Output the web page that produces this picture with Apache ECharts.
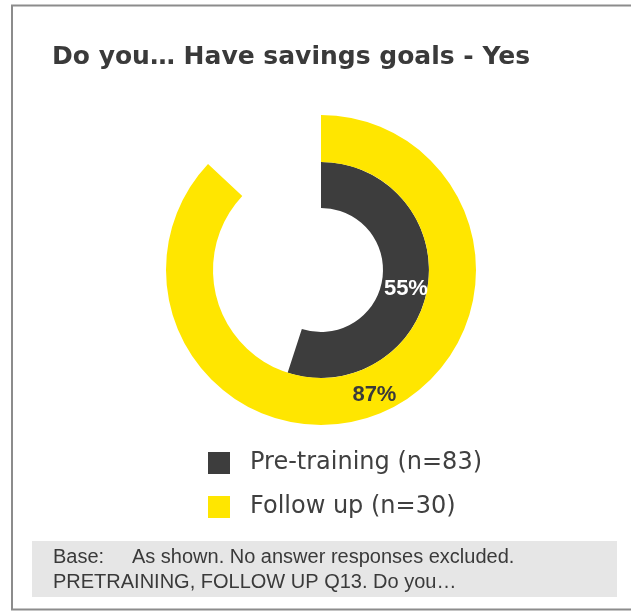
<!DOCTYPE html>
<html>
<head>
<meta charset="utf-8">
<style>
  html, body { margin: 0; padding: 0; background: #ffffff; overflow: hidden; }
  #chart { width: 631px; height: 612px; }
</style>
<script src="https://cdn.jsdelivr.net/npm/echarts@6/dist/echarts.min.js"></script>
</head>
<body>
<div id="chart"></div>
<script>
// Survey groups and the share answering "Yes" (percent)
const categories = ['Pre-training (n=83)', 'Follow up (n=30)'];
const yesShare = [55, 87];
const groupColors = ['#3d3d3d', '#ffe600'];
const labelColors = ['#ffffff', '#3a3a3a'];

const titleText = 'Do you\u2026 Have savings goals - Yes';
const baseNote = [
  'Base:     As shown. No answer responses excluded.',
  'PRETRAINING, FOLLOW UP Q13. Do you\u2026'
];

// Inner ring = first group, outer ring = second group
const ringRadii = [[62, 108], [108, 155]];
const labelOffsets = [[-2, 5], [0, 1]];

const chart = echarts.init(document.getElementById('chart'), null, { renderer: 'canvas' });

const series = categories.map((name, i) => ({
  type: 'pie',
  center: [321, 270],
  radius: ringRadii[i],
  startAngle: 90,
  clockwise: true,
  silent: true,
  avoidLabelOverlap: false,
  itemStyle: { borderWidth: 0 },
  label: {
    show: true,
    position: 'inside',
    formatter: '{c}%',
    fontFamily: 'Liberation Sans',
    fontWeight: 'bold',
    fontSize: 22,
    color: labelColors[i],
    offset: labelOffsets[i]
  },
  labelLine: { show: false },
  emphasis: { disabled: true },
  data: [
    { name: name, value: yesShare[i], itemStyle: { color: groupColors[i] } },
    { name: name + ' rest', value: 100 - yesShare[i],
      itemStyle: { color: 'rgba(0,0,0,0)' }, label: { show: false } }
  ]
}));

chart.setOption({
  animation: false,
  backgroundColor: '#ffffff',
  title: {
    text: titleText,
    left: 52,
    top: 45,
    padding: 0,
    textStyle: {
      fontFamily: 'DejaVu Sans',
      fontWeight: 'bold',
      fontSize: 25,
      color: '#3a3a3a'
    }
  },
  legend: {
    orient: 'vertical',
    left: 208,
    top: 451,
    padding: 0,
    itemWidth: 22,
    itemHeight: 22,
    itemGap: 20,
    icon: 'rect',
    selectedMode: false,
    data: categories,
    textStyle: {
      fontFamily: 'DejaVu Sans',
      fontSize: 24,
      color: '#404040',
      padding: [0, 0, 0, 15]
    }
  },
  graphic: [
    // frame
    { type: 'line', shape: { x1: 11, y1: 5.5, x2: 631, y2: 5.5 }, style: { stroke: '#8c8c8c', lineWidth: 2 } },
    { type: 'line', shape: { x1: 12, y1: 5, x2: 12, y2: 610 }, style: { stroke: '#8c8c8c', lineWidth: 2 } },
    { type: 'line', shape: { x1: 11, y1: 609.5, x2: 631, y2: 609.5 }, style: { stroke: '#8c8c8c', lineWidth: 2 } },
    // base note box
    { type: 'rect', shape: { x: 32, y: 541, width: 585, height: 56 }, style: { fill: '#e6e6e6' } },
    { type: 'text', x: 53, y: 557, style: { text: baseNote[0], fontFamily: 'Liberation Sans', fontSize: 20, fill: '#3a3a3a', verticalAlign: 'middle' } },
    { type: 'text', x: 53, y: 582, style: { text: baseNote[1], fontFamily: 'Liberation Sans', fontSize: 20, fill: '#3a3a3a', verticalAlign: 'middle' } }
  ],
  series: series
});
</script>
</body>
</html>
